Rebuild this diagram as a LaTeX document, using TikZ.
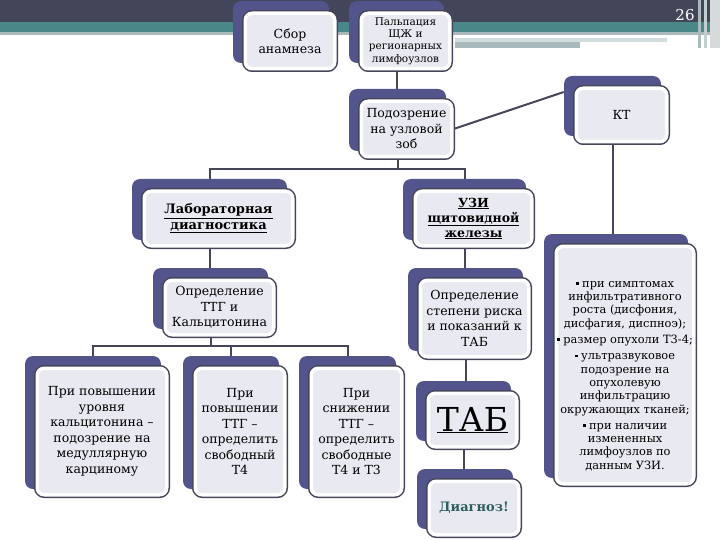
\documentclass[tikz,border=0pt]{standalone}
\usepackage{fontspec}
\setmainfont{DejaVu Serif}
\usetikzlibrary{backgrounds}
\definecolor{shadowc}{HTML}{53548C}
\definecolor{linec}{HTML}{45465A}
\definecolor{fillc}{HTML}{E9E9F1}
\definecolor{bandd}{HTML}{434659}
\definecolor{bandt}{HTML}{4A8789}
\definecolor{bandg}{HTML}{A9B9BC}
\definecolor{bandl}{HTML}{D2DEDE}
\definecolor{diagc}{HTML}{2D5E5E}
\tikzset{
  shadowbox/.style={fill=shadowc, rounded corners=8pt, inner sep=0pt},
  frontbox/.style={fill=fillc, draw=white, line width=3.5pt, rounded corners=7pt,
    preaction={draw=linec, line width=6.5pt}, inner sep=0pt, align=center,
    font=\fontsize{12.5}{15.5}\selectfont},
  conn/.style={draw=linec, line width=2pt},
}
\newcommand\stackbox[7]{%
  \node[shadowbox, minimum width=#4, minimum height=#5] (#1-s) at (#2-9,#3-9) {};
  \node[frontbox, minimum width=#4-6.5, minimum height=#5-6.5, #6] (#1) at (#2,#3) {#7};
}
\newcommand\sqb{\rule[2.5pt]{2.8pt}{2.8pt}\hspace{3.5pt}}
\begin{document}
\begin{tikzpicture}[x=1pt, y=-1pt]
\useasboundingbox (0,0) rectangle (720,540);
% header band
\fill[bandd] (0,0) rectangle (720,22);
\fill[bandt] (0,22) rectangle (720,32);
\fill[bandg] (0,32) rectangle (720,35);
\fill[bandl] (455,38) rectangle (667,42);
\fill[bandg] (455,42) rectangle (580,48);
\fill[bandg] (698,0) rectangle (701,48);
\fill[bandg!70] (704,0) rectangle (707,48);
\fill[bandg!60!gray!40] (710,0) rectangle (720,48);
\node[text=white, font=\fontsize{15}{18}\selectfont] (pg) at (685,15) {26};

% boxes
\stackbox{sbor}{290}{41}{96}{62}{}{Сбор\\анамнеза}
\stackbox{palp}{405.5}{41}{95}{62}{font=\fontsize{10.5}{12.3}\selectfont}{Пальпация\\ЩЖ и\\регионарных\\лимфоузлов}
\stackbox{podoz}{406.5}{129}{97}{62}{}{Подозрение\\на узловой\\зоб}
\stackbox{kt}{621.5}{115}{97}{60}{}{КТ}
\stackbox{lab}{218.5}{218.5}{155}{61}{font=\fontsize{13}{15.5}\selectfont\bfseries}{\underline{Лабораторная}\\\underline{диагностика}}
\stackbox{uzi}{473.5}{218.5}{123}{61}{font=\fontsize{12.5}{15}\selectfont\bfseries}{\underline{УЗИ}\\\underline{щитовидной}\\\underline{железы}}
\stackbox{ttg}{219.5}{307.5}{115}{61}{}{Определение\\ТТГ и\\Кальцитонина}
\stackbox{risk}{474.5}{318.5}{115}{83}{}{Определение\\степени риска\\и показаний к\\ТАБ}
\stackbox{tab}{472.5}{420}{95}{60}{font=\fontsize{33}{36}\selectfont}{\underline{ТАБ}}
\stackbox{diag}{474}{508}{96}{60}{font=\fontsize{13}{15}\selectfont\bfseries, text=diagc}{Диагноз!}
\stackbox{ra}{102}{431.5}{136}{133}{}{При повышении\\уровня\\кальцитонина –\\подозрение на\\медуллярную\\карциному}
\stackbox{rb}{240}{431.5}{96}{133}{}{При\\повышении\\ТТГ –\\определить\\свободный\\Т4}
\stackbox{rc}{356.5}{431.5}{97}{133}{}{При\\снижении\\ТТГ –\\определить\\свободные\\Т4 и Т3}
\stackbox{right}{625}{365}{144}{244}{}{}
\node[align=center, font=\fontsize{11.4}{13.3}\selectfont] (rtext) at (625,376)
  {\sqb при симптомах\\инфильтративного\\роста (дисфония,\\дисфагия, диспноэ);\\[3pt]
   \sqb размер опухоли Т3-4;\\[3pt]
   \sqb ультразвуковое\\подозрение на\\опухолевую\\инфильтрацию\\окружающих тканей;\\[3pt]
   \sqb при наличии\\измененных\\лимфоузлов по\\данным УЗИ.};

\coordinate (j1) at (397.5,169);
\coordinate (j2) at (210.5,346);

\begin{scope}[on background layer]
\draw[conn] (palp-s.south) -- (palp-s.south |- podoz-s.north);
\draw[conn] (podoz.east) -- ([yshift=14pt]kt-s.west);
\draw[conn] (kt-s.south) -- (kt-s.south |- right-s.north);
\draw[conn] (podoz-s.south) -- (j1);
\draw[conn] (lab-s.north) |- (j1) -| (uzi-s.north);
\draw[conn] (lab-s.south) -- (lab-s.south |- ttg-s.north);
\draw[conn] (uzi-s.south) -- (uzi-s.south |- risk-s.north);
\draw[conn] (risk-s.south) -- (risk-s.south |- tab-s.north);
\draw[conn] (tab-s.south) -- (tab-s.south |- diag-s.north);
\draw[conn] (ttg-s.south) -- (j2);
\draw[conn] (ra-s.north) |- (j2) -| (rc-s.north);
\draw[conn] (rb-s.north) -- (rb-s.north |- j2);
\end{scope}
\end{tikzpicture}
\end{document}
